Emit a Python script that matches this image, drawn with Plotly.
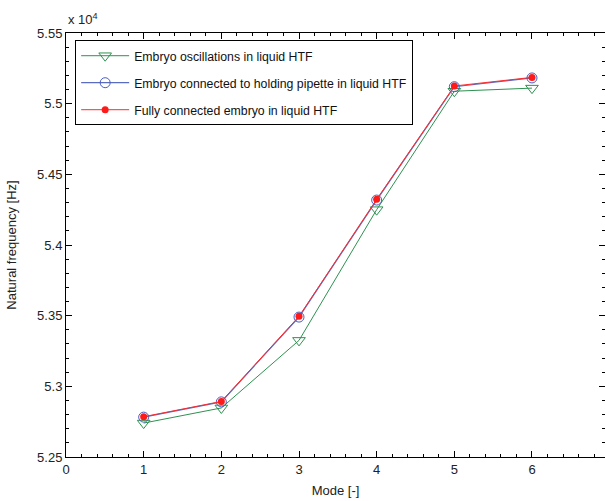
import plotly.graph_objects as go

modes = [1, 2, 3, 4, 5, 6]
freq_oscillations = [52740, 52847, 53325, 54250, 55088, 55110]
freq_pipette = [52782, 52890, 53490, 54318, 55120, 55182]
freq_full = [52785, 52893, 53495, 54323, 55125, 55186]

names = ["Embryo oscillations in liquid HTF",
         "Embryo connected to holding pipette in liquid HTF",
         "Fully connected embryo in liquid HTF"]

y_ticks = [52500, 53000, 53500, 54000, 54500, 55000, 55500]
y_ticktext = ["5.25", "5.3", "5.35", "5.4", "5.45", "5.5", "5.55"]
x_ticks = [0, 1, 2, 3, 4, 5, 6, 7]

FONT = "Liberation Sans, Arial, sans-serif"

fig = go.Figure()
fig.add_trace(go.Scatter(
    x=modes, y=freq_oscillations, name=names[0], mode="lines+markers",
    legendgroup="a",
    line=dict(color="#2e9150", width=1),
    marker=dict(symbol="triangle-down-open", size=11, color="#2e9150", line=dict(width=1))))
fig.add_trace(go.Scatter(
    x=modes, y=freq_pipette, name=names[1], mode="lines+markers",
    legendgroup="b",
    line=dict(color="#5a6cc0", width=1.2),
    marker=dict(symbol="circle-open", size=10, color="#4a5cc0", line=dict(width=1))))
fig.add_trace(go.Scatter(
    x=modes, y=freq_full, name=names[2], mode="lines+markers",
    legendgroup="c",
    line=dict(color="#ff2a2a", width=1),
    marker=dict(symbol="circle", size=7, color="#ff1a1a")))

axis_common = dict(
    showgrid=False, zeroline=False, showline=True, linecolor="black", linewidth=1,
    mirror="ticks", ticks="inside", ticklen=6, tickcolor="black",
    tickfont=dict(family=FONT, size=13, color="#222"),
    automargin=False,
)

fig.update_xaxes(
    range=[0, 6.94], tickvals=x_ticks, ticktext=[str(v) for v in x_ticks],
    minor=dict(ticks="inside", dtick=0.2, ticklen=3, tickcolor="black"),
    title=dict(text="Mode [-]", font=dict(family=FONT, size=13, color="#222"), standoff=10),
    **axis_common)
fig.update_yaxes(
    range=[52500, 55500], tickvals=y_ticks, ticktext=y_ticktext,
    minor=dict(ticks="inside", dtick=100, ticklen=3, tickcolor="black"),
    title=dict(text="Natural frequency [Hz]", font=dict(family=FONT, size=13, color="#222"), standoff=17),
    **axis_common)

fig.add_annotation(
    x=0, y=1, xref="paper", yref="paper", xanchor="left", yanchor="bottom",
    xshift=0, yshift=4, showarrow=False,
    text="x 10<sup>4</sup>", font=dict(family=FONT, size=13, color="#222"))

fig.update_layout(
    width=605, height=501,
    margin=dict(l=66, r=0, t=33, b=44, autoexpand=False),
    paper_bgcolor="white", plot_bgcolor="white",
    showlegend=True,
    legend=dict(
        x=0.017, y=0.983, xanchor="left", yanchor="top",
        bgcolor="white", bordercolor="black", borderwidth=1,
        font=dict(family=FONT, size=12.3, color="#111"),
        traceorder="grouped", tracegroupgap=8,
        itemwidth=48,
    ),
)

fig.write_html(
    "out.html",
    config={"displayModeBar": False},
    post_script="document.body.style.margin='0';document.body.style.overflow='hidden';",
)
